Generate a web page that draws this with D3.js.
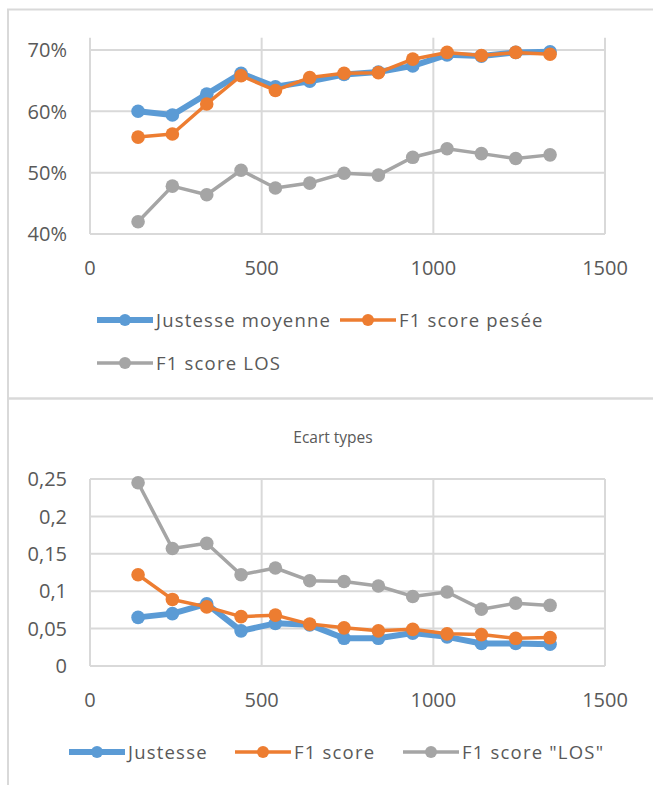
<!DOCTYPE html>
<html><head><meta charset="utf-8">
<script src="https://cdn.jsdelivr.net/npm/d3@7/dist/d3.min.js"></script>
<style>
html,body{margin:0;padding:0;background:#fff;}
svg{display:block;font-family:"Open Sans",sans-serif;}
</style></head>
<body>
<svg id="c" width="653" height="785"></svg>
<script>
// ---- Data ----
const sizes = [140, 240, 340, 440, 540, 640, 740, 840, 940, 1040, 1140, 1240, 1340];
// Top chart (accuracy / F1)
const justesseMoyenne = [0.600, 0.594, 0.628, 0.662, 0.640, 0.649, 0.660, 0.664, 0.674, 0.692, 0.690, 0.696, 0.697];
const f1Pesee        = [0.558, 0.563, 0.612, 0.658, 0.634, 0.655, 0.662, 0.663, 0.685, 0.696, 0.691, 0.696, 0.693];
const f1Los          = [0.420, 0.478, 0.464, 0.504, 0.475, 0.483, 0.499, 0.496, 0.525, 0.539, 0.531, 0.523, 0.529];
const topYTicks = [0.4, 0.5, 0.6, 0.7];
const topYLabels = ["40%", "50%", "60%", "70%"];
const topLegend = ["Justesse moyenne", "F1 score pesée", "F1 score LOS"];
// Bottom chart (standard deviations)
const sdJustesse = [0.065, 0.070, 0.083, 0.047, 0.057, 0.055, 0.037, 0.037, 0.044, 0.039, 0.030, 0.030, 0.029];
const sdF1       = [0.122, 0.089, 0.079, 0.066, 0.068, 0.056, 0.051, 0.047, 0.049, 0.043, 0.042, 0.037, 0.038];
const sdF1Los    = [0.245, 0.157, 0.164, 0.122, 0.131, 0.114, 0.113, 0.107, 0.093, 0.099, 0.076, 0.084, 0.081];
const botYTicks = [0, 0.05, 0.1, 0.15, 0.2, 0.25];
const botYLabels = ["0", "0,05", "0,1", "0,15", "0,2", "0,25"];
const botTitle = "Ecart types";
const botLegend = ["Justesse", "F1 score", "F1 score \"LOS\""];
const xTicks = [0, 500, 1000, 1500];

const colors = ["#5B9BD5", "#ED7D31", "#A5A5A5"];
const widths = [6, 3.5, 3.5];
const gridColor = "#D9D9D9";
const textColor = "#595959";

const svg = d3.select("#c");

// panel borders
svg.append("rect").attr("x", 8).attr("y", 9.5).attr("width", 660).attr("height", 389)
  .attr("fill", "none").attr("stroke", gridColor).attr("stroke-width", 2);
svg.append("rect").attr("x", 8).attr("y", 398.5).attr("width", 660).attr("height", 400)
  .attr("fill", "none").attr("stroke", gridColor).attr("stroke-width", 2);

function drawChart(opt) {
  const x = d3.scaleLinear().domain([0, 1500]).range([90, 605]);
  const y = d3.scaleLinear().domain(opt.yDomain).range(opt.yRange);
  const g = svg.append("g");

  // horizontal gridlines
  g.selectAll(null).data(opt.yTicks).enter().append("line")
    .attr("x1", x(0)).attr("x2", x(1500))
    .attr("y1", d => y(d)).attr("y2", d => y(d))
    .attr("stroke", gridColor).attr("stroke-width", 2);
  // vertical gridlines
  g.selectAll(null).data(xTicks).enter().append("line")
    .attr("x1", d => x(d)).attr("x2", d => x(d))
    .attr("y1", y(opt.yDomain[1])).attr("y2", y(opt.yDomain[0]))
    .attr("stroke", gridColor).attr("stroke-width", 2);

  // y tick labels
  g.selectAll(null).data(opt.yTicks).enter().append("text")
    .attr("x", 67).attr("y", d => y(d)).attr("dy", "0.36em")
    .attr("text-anchor", "end").attr("fill", textColor)
    .attr("font-size", 20).text((d, i) => opt.yLabels[i]);
  // x tick labels
  g.selectAll(null).data(xTicks).enter().append("text")
    .attr("x", d => x(d)).attr("y", y(opt.yDomain[0]) + 34).attr("dy", "0.36em")
    .attr("text-anchor", "middle").attr("fill", textColor)
    .attr("font-size", 20).text(d => d);

  const line = d3.line().x((d, i) => x(sizes[i])).y(d => y(d));
  opt.series.forEach((s, k) => {
    g.append("path").datum(s).attr("d", line).attr("fill", "none")
      .attr("stroke", colors[k]).attr("stroke-width", widths[k]).attr("stroke-linejoin", "round");
    g.selectAll(null).data(s).enter().append("circle")
      .attr("cx", (d, i) => x(sizes[i])).attr("cy", d => y(d)).attr("r", 6.8)
      .attr("fill", colors[k]);
  });

  // legend
  opt.legendPos.forEach((p, k) => {
    const lg = g.append("g");
    lg.append("line").attr("x1", p[0]).attr("x2", p[0] + 56).attr("y1", p[1]).attr("y2", p[1])
      .attr("stroke", colors[k]).attr("stroke-width", widths[k]);
    lg.append("circle").attr("cx", p[0] + 28).attr("cy", p[1]).attr("r", 6).attr("fill", colors[k]);
    lg.append("text").attr("x", p[0] + 59).attr("y", p[1]).attr("dy", "0.36em")
      .attr("fill", textColor).attr("font-size", 18.5).attr("letter-spacing", 1.2)
      .text(opt.legend[k]);
  });

  if (opt.title) {
    g.append("text").attr("x", 333).attr("y", 437).attr("dy", "0.36em")
      .attr("text-anchor", "middle").attr("fill", textColor).attr("font-size", 15.5)
      .text(opt.title);
  }
}

drawChart({
  yDomain: [0.4, 0.72], yRange: [234, 37.7],
  yTicks: topYTicks, yLabels: topYLabels,
  series: [justesseMoyenne, f1Pesee, f1Los],
  legend: topLegend,
  legendPos: [[97, 320], [340, 320], [97, 363]]
});

drawChart({
  yDomain: [0, 0.25], yRange: [666, 479],
  yTicks: botYTicks, yLabels: botYLabels,
  series: [sdJustesse, sdF1, sdF1Los],
  legend: botLegend,
  legendPos: [[69, 752], [235, 752], [403, 752]],
  title: botTitle
});
</script>
</body></html>
